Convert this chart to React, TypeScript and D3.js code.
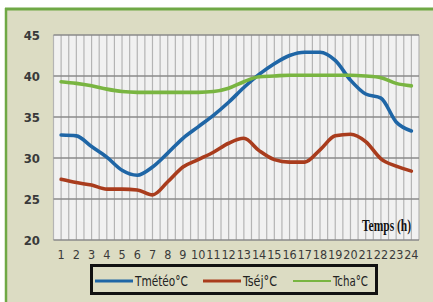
import * as d3 from 'd3';
import React from 'react';

const hours = d3.range(1, 25).map(String);
const yTicks = [20, 25, 30, 35, 40, 45];

const tmeteo = [32.8, 32.7, 31.4, 30.1, 28.5, 27.9, 28.9, 30.6, 32.4, 33.8, 35.2, 36.8, 38.6, 40.2, 41.5, 42.5, 42.9, 42.9, 41.9, 39.5, 37.8, 37.3, 34.4, 33.3];
const tsej = [27.4, 27.0, 26.7, 26.2, 26.2, 26.1, 25.5, 27.1, 28.9, 29.8, 30.7, 31.8, 32.4, 30.9, 29.8, 29.5, 29.5, 31.0, 32.7, 32.9, 32.0, 29.9, 29.0, 28.4];
const tcha = [39.3, 39.1, 38.8, 38.4, 38.1, 38.0, 38.0, 38.0, 38.0, 38.0, 38.1, 38.5, 39.3, 39.9, 40.0, 40.1, 40.1, 40.1, 40.1, 40.1, 40.0, 39.8, 39.1, 38.8];

const series = [
  { name: 'Tmétéo°C', values: tmeteo, color: '#1f66a6', len: 53 },
  { name: 'Tséj°C', values: tsej, color: '#a93c1d', len: 34 },
  { name: 'Tcha°C', values: tcha, color: '#79b541', len: 35 },
];

const W = 433, H = 302;
const plot = { left: 53.5, right: 419, top: 35, bottom: 240 };
const narrow = '"DejaVu Sans", sans-serif';

export default function App() {
  const x = d3.scaleBand().domain(hours).range([plot.left, plot.right]);
  const y = d3.scaleLinear().domain([20, 45]).range([plot.bottom, plot.top]);
  const bw = x.bandwidth();
  const line = d3.line<number>()
    .x((_, i) => x(hours[i])! + bw / 2)
    .y(d => y(d))
    .curve(d3.curveMonotoneX);

  // gridlines every half hour-band
  const vLines: number[] = [];
  hours.forEach(h => { vLines.push(x(h)!); vLines.push(x(h)! + bw / 2); });
  vLines.push(plot.right);

  const legendX = [95, 203, 293];

  return (
    <svg width={W} height={H} style={{ position: 'absolute', left: 0, top: 0, fontStretch: 'condensed' }}>
      <rect x={0} y={0} width={W} height={H} fill="#ffffff" />
      <rect x={5} y={8} width={W - 5} height={H - 8} fill="#dcdcc3" />
      <line x1={5} x2={W} y1={9} y2={9} stroke="#6fa845" strokeWidth={3} />
      <line x1={6} x2={6} y1={8} y2={H} stroke="#6fa845" strokeWidth={2.5} />

      <rect x={plot.left} y={plot.top} width={plot.right - plot.left} height={plot.bottom - plot.top} fill="#f1f1f1" />
      {vLines.map((v, i) => (
        <line key={'v' + i} x1={v} x2={v} y1={plot.top} y2={plot.bottom} stroke="#b4b4b4" strokeWidth={1.2} />
      ))}
      {yTicks.map(t => (
        <line key={'h' + t} x1={plot.left} x2={plot.right} y1={y(t)} y2={y(t)} stroke="#8a8a8a" strokeWidth={1.3} />
      ))}

      {yTicks.map(t => (
        <text key={'yl' + t} x={40} y={y(t) + 4.5} textAnchor="end" fontFamily={narrow} fontSize={13} fontWeight="bold" fill="#3a3a3a" style={{ fontStretch: 'condensed' }}>{t}</text>
      ))}
      {hours.map(h => (
        <text key={'xl' + h} x={x(h)! + bw / 2} y={259} textAnchor="middle" fontFamily={narrow} fontSize={12.5} fill="#3a3a3a" style={{ fontStretch: 'condensed' }}>{h}</text>
      ))}

      {series.map(s => (
        <path key={s.name} d={line(s.values)!} fill="none" stroke={s.color} strokeWidth={3.6} strokeLinejoin="round" strokeLinecap="round" />
      ))}

      <text x={362} y={231} fontFamily='"Liberation Serif", serif' fontSize={16} fontWeight="bold" fill="#111" textLength={49} lengthAdjust="spacingAndGlyphs">Temps (h)</text>

      <rect x={91.5} y={265.5} width={285} height={28} fill="#dcdcc3" stroke="#111" strokeWidth={3} />
      {series.map((s, i) => (
        <g key={'lg' + i}>
          <line x1={legendX[i]} x2={legendX[i] + 38} y1={281} y2={281} stroke={s.color} strokeWidth={i === 2 ? 2.2 : 3} />
          <text x={legendX[i] + 40} y={286} fontFamily={narrow} fontSize={13.5} fill="#222" textLength={s.len} lengthAdjust="spacingAndGlyphs" style={{ fontStretch: 'condensed' }}>{s.name}</text>
        </g>
      ))}
    </svg>
  );
}
